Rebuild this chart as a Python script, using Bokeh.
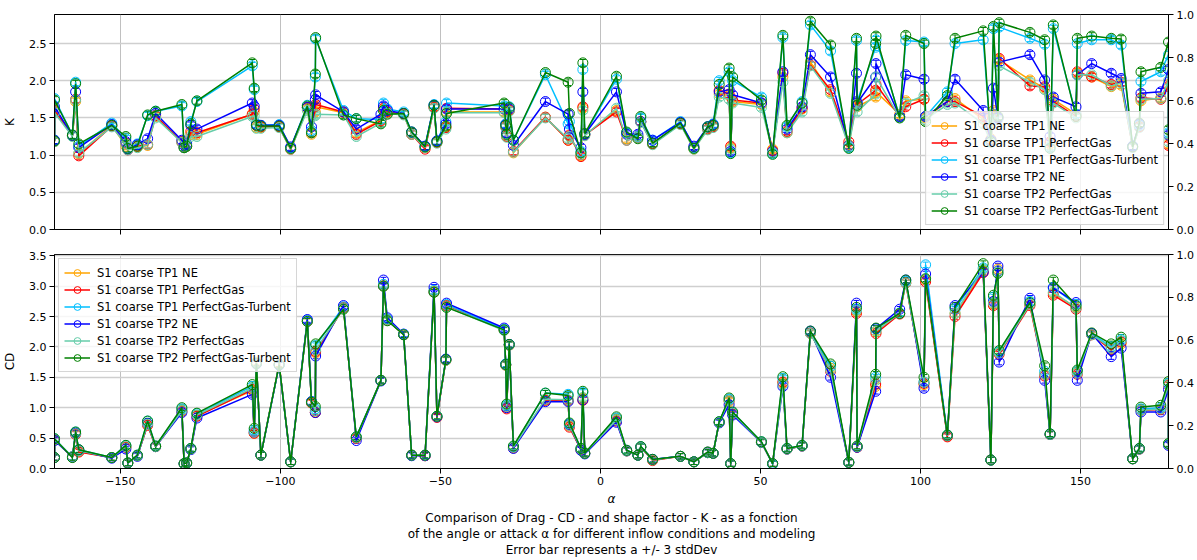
from bokeh.plotting import figure
from bokeh.models import (Range1d, LinearAxis, FixedTicker, PrintfTickFormatter,
                          CustomJSTickFormatter, Legend, LegendItem, Whisker,
                          ColumnDataSource, TeeHead, Title)
from bokeh.layouts import column
from bokeh.embed import file_html
from bokeh.resources import INLINE

FONT = "DejaVu Sans"

# angle of attack (deg), shared by every run
ALPHA = [-170.6, -170.6, -165.0, -164.0, -163.0, -152.7, -148.3, -147.7, -144.7, -141.5,
         -139.0, -130.8, -130.1, -129.3, -128.0, -126.1, -108.8, -108.2, -107.5, -106.1,
         -100.4, -96.8, -91.6, -90.3, -89.1, -89.0, -80.3, -76.3, -68.6, -67.8,
         -66.6, -61.5, -59.0, -54.8, -52.0, -51.1, -48.3, -48.1, -30.1, -29.6,
         -29.3, -28.5, -27.2, -17.2, -10.1, -9.7, -6.1, -5.5, -4.9, 5.0,
         8.2, 11.7, 12.6, 16.3, 25.0, 29.2, 33.5, 35.2, 37.1, 40.2,
         40.7, 41.3, 50.3, 53.8, 57.0, 58.3, 63.0, 65.6, 71.9, 77.6,
         80.0, 80.2, 86.0, 86.1, 93.5, 95.4, 101.1, 101.6, 108.4, 110.8,
         119.6, 122.0, 122.8, 124.2, 124.6, 134.2, 138.8, 140.5, 141.5, 148.6,
         149.0, 153.5, 159.6, 162.7, 166.3, 168.4, 168.9, 175.1, 177.5, 177.5]

# shape factor K
K_TP1_NE = [1.18, 1.60, 1.26, 1.72, 1.02, 1.40, 1.12, 1.08, 1.11, 1.13,
            1.52, 1.17, 1.10, 1.12, 1.28, 1.28, 1.55, 1.58, 1.37, 1.37,
            1.38, 1.08, 1.62, 1.28, 1.58, 1.65, 1.57, 1.30, 1.47, 1.62,
            1.57, 1.55, 1.28, 1.10, 1.64, 1.17, 1.38, 1.58, 1.58, 1.38,
            1.25, 1.60, 1.03, 1.51, 1.20, 1.25, 0.99, 1.63, 1.27, 1.60,
            1.22, 1.25, 1.45, 1.15, 1.42, 1.08, 1.35, 1.38, 1.82, 1.80,
            1.10, 1.72, 1.68, 1.08, 2.05, 1.30, 1.62, 2.25, 1.85, 1.14,
            1.70, 1.65, 1.78, 1.85, 1.55, 1.73, 1.75, 1.50, 1.72, 1.76,
            1.48, 1.22, 1.60, 1.50, 2.28, 2.01, 1.90, 1.15, 1.75, 1.55,
            2.10, 2.05, 1.92, 1.94, 1.11, 1.38, 1.73, 1.77, 1.95, 1.15]
K_TP1_PG = [1.19, 1.60, 1.26, 1.75, 0.99, 1.39, 1.16, 1.07, 1.12, 1.14,
            1.53, 1.18, 1.10, 1.12, 1.32, 1.30, 1.55, 1.62, 1.40, 1.38,
            1.38, 1.08, 1.64, 1.30, 1.65, 1.68, 1.58, 1.28, 1.46, 1.63,
            1.58, 1.55, 1.28, 1.08, 1.64, 1.17, 1.37, 1.63, 1.62, 1.38,
            1.25, 1.60, 1.05, 1.51, 1.20, 1.27, 0.98, 1.65, 1.27, 1.58,
            1.20, 1.24, 1.45, 1.15, 1.42, 1.10, 1.35, 1.38, 1.87, 1.82,
            1.12, 1.74, 1.70, 1.06, 2.10, 1.32, 1.63, 2.21, 1.88, 1.18,
            1.72, 1.68, 1.87, 1.95, 1.52, 1.65, 1.75, 1.52, 1.72, 1.72,
            1.52, 1.20, 1.55, 1.50, 2.30, 1.93, 1.92, 1.18, 1.72, 1.52,
            2.12, 2.05, 1.95, 1.98, 1.11, 1.38, 1.77, 1.75, 1.92, 1.13]
K_TP1_PGT = [1.20, 1.76, 1.27, 1.98, 1.12, 1.43, 1.22, 1.09, 1.15, 1.53,
             1.59, 1.66, 1.10, 1.13, 1.45, 1.72, 2.20, 1.88, 1.42, 1.40,
             1.41, 1.10, 1.67, 1.33, 2.05, 2.56, 1.60, 1.49, 1.48, 1.70,
             1.62, 1.58, 1.31, 1.12, 1.68, 1.19, 1.45, 1.70, 1.66, 1.42,
             1.28, 1.65, 1.20, 2.08, 1.42, 1.45, 1.05, 2.15, 1.28, 2.02,
             1.30, 1.25, 1.50, 1.20, 1.45, 1.10, 1.38, 1.42, 2.00, 2.12,
             1.03, 2.00, 1.78, 1.02, 2.58, 1.38, 1.72, 2.75, 2.40, 1.10,
             2.54, 1.72, 2.45, 2.55, 1.52, 2.54, 2.52, 1.52, 1.85, 2.50,
             2.55, 1.20, 2.70, 1.50, 2.72, 2.57, 2.49, 1.10, 2.70, 1.55,
             2.50, 2.55, 2.55, 2.48, 1.12, 1.40, 1.99, 2.12, 2.35, 1.30]
K_TP2_NE = [1.20, 1.65, 1.26, 1.85, 1.10, 1.41, 1.18, 1.08, 1.14, 1.22,
            1.56, 1.20, 1.13, 1.15, 1.40, 1.35, 1.70, 1.66, 1.41, 1.40,
            1.40, 1.11, 1.64, 1.38, 1.75, 1.81, 1.58, 1.35, 1.55, 1.66,
            1.60, 1.56, 1.31, 1.12, 1.67, 1.19, 1.42, 1.62, 1.62, 1.41,
            1.30, 1.62, 1.13, 1.72, 1.55, 1.35, 1.10, 1.85, 1.28, 1.85,
            1.28, 1.28, 1.45, 1.20, 1.44, 1.12, 1.38, 1.41, 1.85, 1.88,
            1.05, 1.81, 1.70, 1.05, 2.12, 1.35, 1.65, 2.35, 2.05, 1.13,
            2.10, 1.70, 2.05, 2.23, 1.52, 2.08, 2.02, 1.52, 1.72, 2.02,
            1.60, 1.20, 1.90, 1.50, 2.25, 2.35, 2.01, 1.25, 1.78, 1.65,
            2.08, 2.23, 2.10, 2.03, 1.12, 1.42, 1.83, 1.85, 2.15, 1.27]
K_TP2_PG = [1.18, 1.57, 1.25, 1.74, 1.03, 1.38, 1.15, 1.07, 1.10, 1.14,
            1.50, 1.17, 1.10, 1.12, 1.25, 1.25, 1.52, 1.53, 1.36, 1.36,
            1.37, 1.08, 1.60, 1.30, 1.53, 1.55, 1.54, 1.25, 1.43, 1.60,
            1.56, 1.54, 1.28, 1.10, 1.63, 1.16, 1.35, 1.57, 1.57, 1.37,
            1.24, 1.59, 1.04, 1.50, 1.22, 1.25, 1.01, 1.60, 1.26, 1.63,
            1.20, 1.24, 1.44, 1.14, 1.41, 1.08, 1.34, 1.37, 1.78, 1.75,
            1.08, 1.70, 1.64, 1.04, 1.98, 1.30, 1.58, 2.20, 1.83, 1.12,
            1.68, 1.58, 1.82, 2.05, 1.50, 1.70, 1.80, 1.48, 1.68, 1.70,
            1.42, 1.17, 1.55, 1.48, 2.20, 1.98, 1.88, 1.12, 1.70, 1.50,
            2.08, 2.08, 1.93, 1.97, 1.10, 1.37, 1.75, 1.76, 2.00, 1.18]
K_TP2_PGT = [1.19, 1.74, 1.27, 1.96, 1.15, 1.40, 1.25, 1.09, 1.12, 1.54,
             1.59, 1.68, 1.10, 1.12, 1.42, 1.73, 2.24, 1.90, 1.40, 1.39,
             1.39, 1.09, 1.66, 1.30, 2.09, 2.58, 1.54, 1.49, 1.42, 1.60,
             1.55, 1.56, 1.31, 1.11, 1.67, 1.18, 1.39, 1.56, 1.70, 1.40,
             1.28, 1.64, 1.20, 2.11, 1.98, 1.56, 1.03, 2.24, 1.29, 2.06,
             1.31, 1.22, 1.52, 1.16, 1.43, 1.09, 1.38, 1.40, 1.95, 2.17,
             1.02, 2.05, 1.74, 1.01, 2.61, 1.40, 1.70, 2.80, 2.48, 1.09,
             2.57, 1.67, 2.50, 2.60, 1.50, 2.61, 2.50, 1.45, 1.80, 2.57,
             2.67, 1.18, 2.73, 1.52, 2.78, 2.65, 2.55, 1.09, 2.75, 1.52,
             2.57, 2.60, 2.57, 2.56, 1.11, 1.43, 2.12, 2.18, 2.52, 1.34]

# drag coefficient CD
CD_TP1_NE = [0.18, 0.47, 0.19, 0.57, 0.28, 0.18, 0.35, 0.09, 0.21, 0.72,
             0.36, 0.95, 0.08, 0.09, 0.32, 0.87, 1.28, 0.58, 1.75, 0.22,
             1.72, 0.11, 2.43, 1.08, 0.93, 1.90, 2.65, 0.50, 1.45, 3.02,
             2.45, 2.20, 0.22, 0.21, 2.92, 0.85, 1.78, 2.68, 2.28, 1.70,
             1.00, 2.03, 0.34, 1.13, 1.12, 0.70, 0.31, 1.15, 0.25, 0.80,
             0.29, 0.22, 0.35, 0.14, 0.20, 0.11, 0.26, 0.25, 0.76, 1.10,
             0.08, 0.90, 0.43, 0.08, 1.40, 0.32, 0.37, 2.22, 1.65, 0.10,
             2.58, 0.35, 1.35, 2.25, 2.55, 3.05, 1.38, 3.10, 0.53, 2.55,
             3.25, 0.14, 2.70, 3.28, 1.90, 2.70, 1.55, 0.56, 2.88, 2.65,
             1.58, 2.20, 1.97, 2.05, 0.16, 0.32, 0.96, 0.98, 1.38, 0.40]
CD_TP1_PG = [0.18, 0.47, 0.19, 0.56, 0.27, 0.18, 0.35, 0.09, 0.21, 0.71,
             0.36, 0.94, 0.08, 0.09, 0.32, 0.86, 1.30, 0.58, 1.73, 0.22,
             1.71, 0.11, 2.42, 1.08, 0.92, 1.92, 2.64, 0.50, 1.45, 3.00,
             2.44, 2.20, 0.22, 0.21, 2.90, 0.84, 1.78, 2.67, 2.28, 1.70,
             0.98, 2.03, 0.34, 1.12, 1.12, 0.68, 0.31, 1.12, 0.25, 0.78,
             0.29, 0.22, 0.35, 0.13, 0.20, 0.11, 0.27, 0.25, 0.76, 1.12,
             0.08, 0.90, 0.43, 0.08, 1.42, 0.32, 0.37, 2.23, 1.60, 0.10,
             2.55, 0.35, 1.39, 2.22, 2.54, 3.05, 1.40, 3.07, 0.52, 2.50,
             3.22, 0.14, 2.68, 3.25, 1.88, 2.68, 1.52, 0.56, 2.85, 2.62,
             1.55, 2.20, 1.95, 2.08, 0.16, 0.32, 0.96, 0.97, 1.37, 0.40]
CD_TP1_PGT = [0.18, 0.49, 0.19, 0.60, 0.31, 0.18, 0.38, 0.09, 0.22, 0.78,
              0.37, 0.98, 0.08, 0.09, 0.33, 0.90, 1.35, 0.63, 1.74, 0.22,
              1.70, 0.11, 2.44, 1.10, 0.98, 2.02, 2.66, 0.52, 1.45, 3.03,
              2.46, 2.21, 0.22, 0.22, 2.93, 0.86, 1.79, 2.70, 2.29, 1.72,
              1.04, 2.04, 0.36, 1.24, 1.22, 0.74, 0.33, 1.25, 0.25, 0.83,
              0.30, 0.22, 0.36, 0.15, 0.20, 0.11, 0.27, 0.25, 0.77, 1.14,
              0.08, 0.92, 0.44, 0.07, 1.48, 0.33, 0.38, 2.25, 1.68, 0.10,
              2.62, 0.36, 1.50, 2.30, 2.56, 3.08, 1.42, 3.35, 0.55, 2.62,
              3.30, 0.14, 2.82, 3.25, 1.92, 2.75, 1.60, 0.57, 2.98, 2.70,
              1.60, 2.22, 2.00, 2.12, 0.16, 0.33, 0.98, 1.00, 1.40, 0.40]
CD_TP2_NE = [0.18, 0.46, 0.19, 0.58, 0.30, 0.17, 0.32, 0.09, 0.20, 0.74,
             0.36, 0.92, 0.08, 0.09, 0.31, 0.83, 1.22, 0.60, 1.72, 0.22,
             1.70, 0.11, 2.45, 1.10, 0.92, 1.85, 2.68, 0.46, 1.44, 3.10,
             2.48, 2.21, 0.21, 0.21, 2.98, 0.85, 1.80, 2.72, 2.31, 1.71,
             1.00, 2.04, 0.33, 1.10, 1.10, 0.72, 0.30, 1.13, 0.24, 0.76,
             0.29, 0.22, 0.35, 0.15, 0.20, 0.11, 0.26, 0.25, 0.75, 1.05,
             0.08, 0.88, 0.43, 0.08, 1.35, 0.32, 0.37, 2.26, 1.50, 0.10,
             2.72, 0.35, 1.27, 2.30, 2.62, 3.10, 1.32, 3.20, 0.54, 2.68,
             3.23, 0.14, 2.75, 3.33, 1.75, 2.80, 1.45, 0.56, 2.97, 2.73,
             1.45, 2.22, 1.84, 1.98, 0.16, 0.32, 0.93, 0.93, 1.30, 0.38]
CD_TP2_PG = [0.18, 0.48, 0.19, 0.57, 0.29, 0.18, 0.36, 0.09, 0.21, 0.73,
             0.36, 0.95, 0.08, 0.09, 0.32, 0.88, 1.32, 0.60, 1.73, 0.22,
             1.71, 0.11, 2.42, 1.09, 0.95, 1.95, 2.63, 0.51, 1.45, 3.00,
             2.44, 2.20, 0.22, 0.22, 2.90, 0.86, 1.78, 2.66, 2.27, 1.70,
             1.02, 2.03, 0.35, 1.14, 1.13, 0.71, 0.32, 1.17, 0.25, 0.80,
             0.29, 0.22, 0.35, 0.14, 0.20, 0.11, 0.26, 0.25, 0.76, 1.12,
             0.08, 0.91, 0.43, 0.08, 1.38, 0.32, 0.37, 2.22, 1.62, 0.10,
             2.60, 0.36, 1.45, 2.26, 2.55, 3.05, 1.42, 3.12, 0.54, 2.55,
             3.28, 0.14, 2.72, 3.22, 1.90, 2.70, 1.55, 0.56, 2.90, 2.64,
             1.57, 2.20, 1.98, 2.10, 0.16, 0.32, 0.96, 0.98, 1.38, 0.40]
CD_TP2_PGT = [0.18, 0.49, 0.18, 0.60, 0.31, 0.18, 0.38, 0.09, 0.22, 0.78,
              0.37, 1.00, 0.08, 0.09, 0.33, 0.91, 1.38, 0.66, 1.73, 0.22,
              1.71, 0.11, 2.42, 1.09, 1.02, 2.05, 2.62, 0.52, 1.45, 3.00,
              2.43, 2.20, 0.22, 0.22, 2.90, 0.86, 1.79, 2.65, 2.28, 1.71,
              1.06, 2.04, 0.37, 1.24, 1.20, 0.75, 0.33, 1.27, 0.25, 0.85,
              0.30, 0.22, 0.36, 0.15, 0.20, 0.11, 0.27, 0.25, 0.77, 1.16,
              0.08, 0.93, 0.44, 0.08, 1.51, 0.33, 0.38, 2.26, 1.72, 0.10,
              2.65, 0.37, 1.55, 2.31, 2.55, 3.10, 1.50, 3.12, 0.55, 2.65,
              3.37, 0.14, 2.85, 3.21, 1.94, 2.73, 1.69, 0.57, 3.10, 2.68,
              1.62, 2.23, 2.05, 2.16, 0.16, 0.33, 1.01, 1.04, 1.43, 0.41]

# one standard deviation of the sampled coefficients
STD_K = 0.015
STD_CD = 0.015

SERIES_NAMES = ["S1 coarse TP1 NE", "S1 coarse TP1 PerfectGas", "S1 coarse TP1 PerfectGas-Turbent",
                "S1 coarse TP2 NE", "S1 coarse TP2 PerfectGas", "S1 coarse TP2 PerfectGas-Turbent"]
SERIES_COLORS = ["#ffa500", "#ff0000", "#00bfff", "#0000ff", "#66cdaa", "#008000"]
K_SERIES = [K_TP1_NE, K_TP1_PG, K_TP1_PGT, K_TP2_NE, K_TP2_PG, K_TP2_PGT]
CD_SERIES = [CD_TP1_NE, CD_TP1_PG, CD_TP1_PGT, CD_TP2_NE, CD_TP2_PG, CD_TP2_PGT]

X_TICKS = [-150, -100, -50, 0, 50, 100, 150]
K_TICKS = [0.0, 0.5, 1.0, 1.5, 2.0, 2.5]
CD_TICKS = [0.0, 0.5, 1.0, 1.5, 2.0, 2.5, 3.0, 3.5]
RIGHT_TICKS = [0.0, 0.2, 0.4, 0.6, 0.8, 1.0]

TITLE_LINES = ["Comparison of Drag - CD - and shape factor - K - as a fonction",
               "of the angle or attack \u03b1 for different inflow conditions and modeling",
               "Error bar represents a +/- 3 stdDev"]

TICK_SIZE = "11px"


def style_axis(ax):
    ax.major_label_text_font = FONT
    ax.major_label_text_font_size = TICK_SIZE
    ax.major_label_text_color = "#000000"
    ax.axis_label_text_font = FONT
    ax.axis_label_text_font_size = "12px"
    ax.axis_label_text_font_style = "normal"
    ax.axis_label_text_color = "#000000"
    ax.axis_line_color = "#000000"
    ax.major_tick_line_color = "#000000"
    ax.major_tick_out = 5
    ax.major_tick_in = 0
    ax.minor_tick_out = 0
    ax.minor_tick_in = 0
    ax.major_label_standoff = 3


def make_panel(series, std, y_end, y_ticks, y_label, legend_loc, top_panel):
    p = figure(frame_width=1114, frame_height=215 if top_panel else 214,
               x_range=Range1d(-170.6, 177.5), y_range=Range1d(0, y_end),
               output_backend="svg", toolbar_location=None,
               min_border_left=52, min_border_right=31,
               min_border_top=14 if top_panel else 13,
               min_border_bottom=12 if top_panel else 92)
    p.outline_line_color = "#000000"
    p.outline_line_width = 1
    p.background_fill_color = "#ffffff"

    p.xaxis.ticker = FixedTicker(ticks=X_TICKS)
    p.yaxis.ticker = FixedTicker(ticks=y_ticks)
    p.yaxis.formatter = PrintfTickFormatter(format="%.1f")
    p.yaxis.axis_label = y_label
    style_axis(p.xaxis[0])
    style_axis(p.yaxis[0])
    p.yaxis.axis_label_standoff = 9
    if top_panel:
        # shared alpha axis: tick marks only, labels live on the lower panel
        p.xaxis.formatter = CustomJSTickFormatter(code="return '';")
    else:
        p.xaxis.formatter = CustomJSTickFormatter(
            code="return tick < 0 ? '\u2212' + (-tick) : String(tick);")
        p.xaxis.axis_label = "\u03b1"
        p.xaxis.axis_label_text_font_style = "italic"
        p.xaxis.axis_label_standoff = 4

    p.extra_y_ranges = {"right": Range1d(0, 1)}
    rax = LinearAxis(y_range_name="right", ticker=FixedTicker(ticks=RIGHT_TICKS),
                     formatter=PrintfTickFormatter(format="%.1f"))
    style_axis(rax)
    p.add_layout(rax, "right")

    p.xgrid.grid_line_color = "#b0b0b0"
    p.xgrid.grid_line_width = 0.8
    p.ygrid.grid_line_color = "#cfcfcf"
    p.ygrid.grid_line_width = 1.6

    items = []
    for name, color, vals in zip(SERIES_NAMES, SERIES_COLORS, series):
        src = ColumnDataSource(dict(
            x=ALPHA, y=vals,
            lo=[v - 3 * std for v in vals],
            hi=[v + 3 * std for v in vals]))
        ln = p.line("x", "y", source=src, line_color=color, line_width=1.5)
        p.add_layout(Whisker(source=src, base="x", lower="lo", upper="hi",
                             dimension="height", line_color=color, line_width=1,
                             lower_head=TeeHead(size=6, line_color=color, line_width=1),
                             upper_head=TeeHead(size=6, line_color=color, line_width=1)))
        sc = p.scatter("x", "y", source=src, marker="circle", size=10,
                       fill_color=None, line_color=color, line_width=1)
        # vertical bar shown next to each legend label
        bar = p.scatter(x=[], y=[], marker="cross", size=14,
                        line_color=color, line_width=1)
        items.append(LegendItem(label=name, renderers=[ln, sc, bar]))

    legend = Legend(items=items, location=legend_loc, margin=4, padding=5,
                    spacing=0, glyph_width=26, glyph_height=17, label_height=17,
                    label_standoff=7, label_text_font=FONT,
                    label_text_font_size="11.5px", label_text_color="#000000",
                    background_fill_alpha=0.8, border_line_color="#cccccc",
                    border_line_alpha=0.8)
    p.add_layout(legend)
    return p


top = make_panel(K_SERIES, STD_K, 2.89, K_TICKS, "K", "bottom_right", True)
bottom = make_panel(CD_SERIES, STD_CD, 3.52, CD_TICKS, "CD", "top_left", False)

# caption under the lower panel, one centred line per title
for line in TITLE_LINES:
    bottom.add_layout(Title(text=line, align="center", text_font=FONT,
                            text_font_size="12px", text_font_style="normal",
                            text_line_height=1.0, text_color="#000000",
                            standoff=0), "below")

layout = column(top, bottom, spacing=0)
open("out.html", "w").write(file_html(layout, INLINE))
